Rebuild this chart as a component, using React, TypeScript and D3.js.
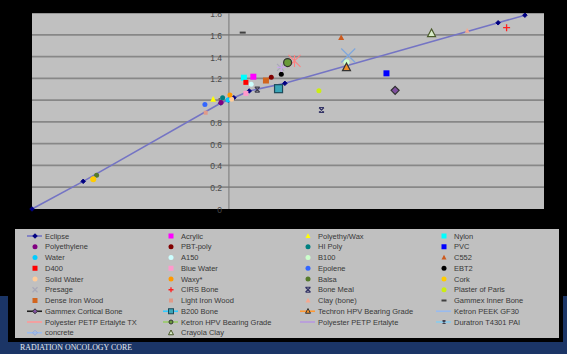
import React from "react";
import * as d3 from "d3";

// ---------- DATA ----------
const Y_TICKS = [0, 0.2, 0.4, 0.6, 0.8, 1.0, 1.2, 1.4, 1.6, 1.8];
const Y_TICK_LABELS = ["0", "0.2", "0.4", "0.6", "0.8", "1", "1.2", "1.4", "1.6", "1.8"];

const ECLIPSE_HU = [-1000, -740, -41, -3, 25, 103, 284, 1367, 1503];
const ECLIPSE_ED = [0, 0.254, 0.973, 1.0, 1.022, 1.084, 1.154, 1.71, 1.78];

// Legend order (row-major, 4 columns)
const LEGEND_NAMES = [
  "Eclipse", "Acrylic", "Polyethy/Wax", "Nylon",
  "Polyethylene", "PBT-poly", "HI Poly", "PVC",
  "Water", "A150", "B100", "C552",
  "D400", "Blue Water", "Epolene", "EBT2",
  "Solid Water", "Waxy*", "Balsa", "Cork",
  "Presage", "CIRS Bone", "Bone Meal", "Plaster of Paris",
  "Dense Iron Wood", "Light Iron Wood", "Clay (bone)", "Gammex Inner Bone",
  "Gammex Cortical Bone", "B200 Bone", "Techron HPV Bearing Grade", "Ketron PEEK GF30",
  "Polyester PETP Ertalyte TX", "Ketron HPV Bearing Grade", "Polyester PETP Ertalyte", "Duratron T4301 PAI",
  "concrete", "Crayola Clay",
];

// Single-point materials: name, CT number (HU), relative electron density
const MATERIAL_NAMES = [
  "Acrylic", "Polyethy/Wax", "Nylon", "Polyethylene", "PBT-poly", "HI Poly", "PVC",
  "Water", "A150", "B100", "C552", "D400", "Blue Water", "Epolene", "EBT2",
  "Solid Water", "Waxy*", "Balsa", "Cork", "Presage", "CIRS Bone", "Bone Meal",
  "Plaster of Paris", "Dense Iron Wood", "Light Iron Wood", "Clay (bone)",
  "Gammex Inner Bone", "Gammex Cortical Bone", "B200 Bone", "Techron HPV Bearing Grade",
  "Ketron PEEK GF30", "Polyester PETP Ertalyte TX", "Ketron HPV Bearing Grade",
  "Polyester PETP Ertalyte", "Duratron T4301 PAI", "Crayola Clay",
];
const MATERIAL_HU = [
  124, -80, 76, -40, 215, -32, 800,
  -5, 113, 597, 570, 86, 86, -122, 266,
  14, 5, -672, -689, 262, 1410, 470,
  457, 188, -118, 1210,
  70, 844, 252, 597,
  606, 333, 298,
  267, 144, 1029,
];
const MATERIAL_ED = [
  1.215, 1.007, 1.206, 0.978, 1.209, 1.022, 1.246,
  1.0, 1.145, 1.347, 1.573, 1.163, 1.062, 0.96, 1.237,
  1.007, 1.047, 0.309, 0.273, 1.3, 1.665, 0.909,
  1.087, 1.18, 0.884, 1.637,
  1.62, 1.09, 1.105, 1.3,
  1.41, 1.36, 1.345,
  1.3, 1.096, 1.613,
];

// ---------- STYLES ----------
type Sty = { shape: string; fill: string; stroke?: string; size: number; line?: string; legendSize?: number };
const STYLES: Record<string, Sty> = {
  "Eclipse": { shape: "diamond", fill: "#000080", stroke: "#000080", size: 4.5, line: "#7474c4" },
  "Acrylic": { shape: "square", fill: "#ff00ff", size: 6 },
  "Polyethy/Wax": { shape: "triangle", fill: "#ffff00", size: 6 },
  "Nylon": { shape: "square", fill: "#00ffff", size: 6 },
  "Polyethylene": { shape: "circle", fill: "#800080", size: 5 },
  "PBT-poly": { shape: "circle", fill: "#800000", size: 5 },
  "HI Poly": { shape: "circle", fill: "#008080", size: 5 },
  "PVC": { shape: "square", fill: "#0000ff", size: 6 },
  "Water": { shape: "circle", fill: "#00ccff", size: 5 },
  "A150": { shape: "circle", fill: "#ccffff", size: 5 },
  "B100": { shape: "circle", fill: "#ccffcc", size: 6 },
  "C552": { shape: "triangle", fill: "#cc5a1e", size: 6 },
  "D400": { shape: "square", fill: "#ff0000", size: 5 },
  "Blue Water": { shape: "square", fill: "#ff99cc", size: 5 },
  "Epolene": { shape: "circle", fill: "#3366ff", size: 5 },
  "EBT2": { shape: "circle", fill: "#000000", size: 5 },
  "Solid Water": { shape: "circle", fill: "#ffcc99", size: 5 },
  "Waxy*": { shape: "circle", fill: "#ff9900", size: 5 },
  "Balsa": { shape: "circle", fill: "#557a2a", size: 5 },
  "Cork": { shape: "circle", fill: "#ffcc00", size: 6 },
  "Presage": { shape: "x", fill: "none", stroke: "#a8a8b8", size: 7 },
  "CIRS Bone": { shape: "plus", fill: "none", stroke: "#ff2020", size: 7 },
  "Bone Meal": { shape: "barx", fill: "none", stroke: "#333366", size: 5 },
  "Plaster of Paris": { shape: "circle", fill: "#ccee11", size: 5 },
  "Dense Iron Wood": { shape: "square", fill: "#d2651e", size: 6 },
  "Light Iron Wood": { shape: "square", fill: "#e09a88", size: 4 },
  "Clay (bone)": { shape: "triangle", fill: "#f5a890", size: 5 },
  "Gammex Inner Bone": { shape: "dash", fill: "none", stroke: "#404040", size: 6 },
  "Gammex Cortical Bone": { shape: "diamond", fill: "#8050a0", stroke: "#303030", size: 8, line: "#202020" },
  "B200 Bone": { shape: "square", fill: "#3aa6b8", stroke: "#1c4a5a", size: 8, line: "#33ccff" },
  "Techron HPV Bearing Grade": { shape: "triangle", fill: "#f0902a", stroke: "#333333", size: 8, line: "#ff9933" },
  "Ketron PEEK GF30": { shape: "x", fill: "none", stroke: "#7fa7dd", size: 14, line: "#99bbee", legendSize: 0 },
  "Polyester PETP Ertalyte TX": { shape: "star", fill: "none", stroke: "#ff8080", size: 12, line: "#ff9999", legendSize: 0 },
  "Ketron HPV Bearing Grade": { shape: "circle", fill: "#6a9a3a", stroke: "#333333", size: 8, line: "#99cc66", legendSize: 4 },
  "Polyester PETP Ertalyte": { shape: "plus", fill: "none", stroke: "#c8a8e8", size: 9, line: "#b898e0", legendSize: 0 },
  "Duratron T4301 PAI": { shape: "barx", fill: "none", stroke: "#404050", size: 5, line: "#88ccee", legendSize: 3 },
  "concrete": { shape: "diamond", fill: "none", stroke: "#8fa8e0", size: 5, line: "#99bbee" },
  "Crayola Clay": { shape: "triangle", fill: "#d8ecc8", stroke: "#4a5a2a", size: 8 },
};

function Marker({ s, x, y, size }: { s: Sty; x: number; y: number; size?: number }) {
  const z = size ?? s.size;
  if (z <= 0) return null;
  const h = z / 2;
  const st = s.stroke ?? "none";
  const sw = s.stroke ? (z < 6 ? 1 : 1.2) : 0;
  switch (s.shape) {
    case "circle":
      return <circle cx={x} cy={y} r={h} fill={s.fill} stroke={st} strokeWidth={sw} />;
    case "square":
      return <rect x={x - h} y={y - h} width={z} height={z} fill={s.fill} stroke={st} strokeWidth={sw} />;
    case "triangle":
      return <path d={`M${x},${y - h * 1.1}L${x + h},${y + h * 0.8}L${x - h},${y + h * 0.8}Z`} fill={s.fill} stroke={st} strokeWidth={sw} />;
    case "diamond":
      return <path d={`M${x},${y - h}L${x + h},${y}L${x},${y + h}L${x - h},${y}Z`} fill={s.fill} stroke={st} strokeWidth={sw} />;
    case "x":
      return <path d={`M${x - h},${y - h}L${x + h},${y + h}M${x - h},${y + h}L${x + h},${y - h}`} stroke={st} strokeWidth={1.2} fill="none" />;
    case "plus":
      return <path d={`M${x - h},${y}L${x + h},${y}M${x},${y - h}L${x},${y + h}`} stroke={st} strokeWidth={1.3} fill="none" />;
    case "star":
      return <path d={`M${x - h},${y - h}L${x + h},${y + h}M${x - h},${y + h}L${x + h},${y - h}M${x},${y - h}L${x},${y + h}`} stroke={st} strokeWidth={1.1} fill="none" />;
    case "barx":
      return <path d={`M${x - h},${y - h}L${x + h},${y + h}M${x - h},${y + h}L${x + h},${y - h}M${x - h},${y - h}L${x + h},${y - h}M${x - h},${y + h}L${x + h},${y + h}`} stroke={st} strokeWidth={1.2} fill="none" />;
    case "dash":
      return <path d={`M${x - h},${y}L${x + h},${y}`} stroke={st} strokeWidth={2} fill="none" />;
    default:
      return null;
  }
}

export default function App() {
  const W = 567, H = 354;
  const x = d3.scaleLinear().domain([-1000, 1600]).range([32, 544]);
  const y = d3.scaleLinear().domain([0, 1.8]).range([209, 13]);
  const line = d3.line<number>().x((_, i) => x(ECLIPSE_HU[i])).y((d) => y(d));

  const colText = [45, 181, 318, 454];
  const rowY = (r: number) => 236 + r * 10.75;
  const font = "'Liberation Sans', Arial, sans-serif";

  return (
    <svg width={W} height={H} style={{ position: "absolute", left: 0, top: 0, display: "block" }}>
      <rect x={0} y={0} width={W} height={H} fill="#1b3566" />
      <rect x={0} y={0} width={W} height={296} fill="#000" />
      <rect x={8} y={220} width={555} height={122} fill="#000" />
      {/* plot area */}
      <rect x={32} y={13} width={512} height={196} fill="#c0c0c0" />
      {Y_TICKS.slice(1).map((t) => (
        <line key={t} x1={32} x2={544} y1={y(t)} y2={y(t)} stroke="#878787" strokeWidth={1.7} />
      ))}
      <line x1={x(0)} x2={x(0)} y1={13} y2={209} stroke="#777" strokeWidth={1} />
      {Y_TICKS.map((t, i) => (
        <text key={t} x={222} y={y(t) + 1} dy="0.35em" textAnchor="end" fontFamily={font} fontSize={8.5} fill="#4a4a4a">
          {Y_TICK_LABELS[i]}
        </text>
      ))}
      {/* Eclipse curve */}
      <path d={line(ECLIPSE_ED) ?? ""} fill="none" stroke={STYLES["Eclipse"].line} strokeWidth={1.6} />
      {ECLIPSE_ED.map((v, i) => (
        <Marker key={i} s={STYLES["Eclipse"]} x={x(ECLIPSE_HU[i])} y={y(v)} />
      ))}
      {MATERIAL_NAMES.map((n, i) => (
        <Marker key={n} s={STYLES[n]} x={x(MATERIAL_HU[i])} y={y(MATERIAL_ED[i])} />
      ))}
      <rect x={0} y={0} width={W} height={13} fill="#000" />
      {/* legend */}
      <rect x={15} y={229} width={544} height={109} fill="#c0c0c0" />
      {LEGEND_NAMES.map((n, i) => {
        const c = i % 4, r = Math.floor(i / 4);
        const tx = colText[c];
        const ty = rowY(r);
        const s = STYLES[n];
        const mx = tx - 10;
        return (
          <g key={n}>
            {s.line && <line x1={mx - 8} x2={mx + 7} y1={ty} y2={ty} stroke={s.line} strokeWidth={1.6} />}
            <Marker s={s} x={mx} y={ty} size={s.legendSize ?? Math.min(s.size, 5)} />
            <text x={tx} y={ty} dy="0.35em" fontFamily={font} fontSize={7.5} fill="#383838">{n}</text>
          </g>
        );
      })}
      <text x={20} y={350} fontFamily="'Liberation Serif', 'Times New Roman', serif" fontSize={8} fill="#e8ecf4" textLength={112} lengthAdjust="spacingAndGlyphs">
        RADIATION ONCOLOGY CORE
      </text>
    </svg>
  );
}
